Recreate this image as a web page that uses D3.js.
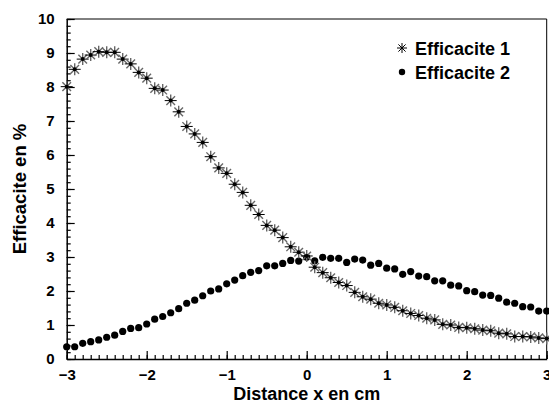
<!DOCTYPE html>
<html>
<head>
<meta charset="utf-8">
<script src="https://cdn.jsdelivr.net/npm/d3@7"></script>
<style>
  body { margin: 0; background: #fff; }
  text { font-family: "Liberation Sans", Arial, sans-serif; font-weight: bold; fill: #000; }
</style>
</head>
<body>
<svg width="549" height="403"></svg>
<script>
// distance (cm)
var distance = [
  -3.0, -2.9, -2.8, -2.7, -2.6, -2.5, -2.4, -2.3, -2.2, -2.1,
  -2.0, -1.9, -1.8, -1.7, -1.6, -1.5, -1.4, -1.3, -1.2, -1.1,
  -1.0, -0.9, -0.8, -0.7, -0.6, -0.5, -0.4, -0.3, -0.2, -0.1,
   0.0,  0.1,  0.2,  0.3,  0.4,  0.5,  0.6,  0.7,  0.8,  0.9,
   1.0,  1.1,  1.2,  1.3,  1.4,  1.5,  1.6,  1.7,  1.8,  1.9,
   2.0,  2.1,  2.2,  2.3,  2.4,  2.5,  2.6,  2.7,  2.8,  2.9,
   3.0
];

// Efficacite 1 (%)
var eff1 = [
  8.01, 8.52, 8.82, 8.94, 9.04, 9.02, 9.02, 8.82, 8.68, 8.43,
  8.26, 7.96, 7.91, 7.60, 7.27, 6.84, 6.62, 6.37, 5.95, 5.62,
  5.46, 5.14, 4.90, 4.52, 4.25, 3.93, 3.79, 3.57, 3.30, 3.14,
  3.03, 2.70, 2.54, 2.39, 2.25, 2.16, 1.96, 1.83, 1.76, 1.64,
  1.59, 1.52, 1.42, 1.34, 1.28, 1.20, 1.15, 1.02, 1.00, 0.93,
  0.92, 0.89, 0.85, 0.83, 0.76, 0.74, 0.66, 0.66, 0.65, 0.62,
  0.60
];

// Efficacite 2 (%)
var eff2 = [
  0.36, 0.36, 0.46, 0.51, 0.56, 0.64, 0.70, 0.81, 0.90, 0.92,
  1.03, 1.17, 1.25, 1.36, 1.48, 1.64, 1.73, 1.86, 2.00, 2.06,
  2.21, 2.32, 2.45, 2.55, 2.60, 2.74, 2.74, 2.81, 2.90, 2.88,
  2.99, 2.89, 2.99, 2.96, 2.96, 2.84, 2.94, 2.91, 2.76, 2.81,
  2.67, 2.65, 2.49, 2.57, 2.44, 2.42, 2.30, 2.30, 2.17, 2.15,
  2.01, 1.98, 1.88, 1.87, 1.79, 1.67, 1.64, 1.54, 1.53, 1.41,
  1.41
];

var xTicks = [-3, -2, -1, 0, 1, 2, 3];
var yTicks = [0, 1, 2, 3, 4, 5, 6, 7, 8, 9, 10];
var seriesNames = ["Efficacite 1", "Efficacite 2"];

var svg = d3.select("svg");
var mLeft = 66.7, mRight = 546.7, mTop = 19, mBottom = 359;

var x = d3.scaleLinear().domain([-3, 3]).range([mLeft, mRight]);
var y = d3.scaleLinear().domain([0, 10]).range([mBottom, mTop]);

// frame (top + right)
svg.append("path")
    .attr("d", "M" + mLeft + "," + mTop + "H" + mRight + "V" + mBottom)
    .attr("fill", "none")
    .attr("stroke", "#000")
    .attr("stroke-width", 1);

// minor ticks
svg.append("g")
    .attr("transform", "translate(0," + mBottom + ")")
    .call(d3.axisBottom(x).ticks(60).tickSize(-4).tickFormat(""))
    .call(g => g.select(".domain").remove());
svg.append("g")
    .attr("transform", "translate(" + mLeft + ",0)")
    .call(d3.axisLeft(y).ticks(40).tickSize(-4).tickFormat(""))
    .call(g => g.select(".domain").remove());

// major axes
var xAxis = svg.append("g")
    .attr("transform", "translate(0," + mBottom + ")")
    .call(d3.axisBottom(x).tickValues(xTicks).tickSizeInner(-8).tickSizeOuter(0).tickPadding(10)
        .tickFormat(d => d < 0 ? "\u2212" + Math.abs(d) : d));
xAxis.selectAll("text").attr("font-size", 15);

var yAxis = svg.append("g")
    .attr("transform", "translate(" + mLeft + ",0)")
    .call(d3.axisLeft(y).tickValues(yTicks).tickSizeInner(-8).tickSizeOuter(0).tickPadding(12));
yAxis.selectAll("text").attr("font-size", 15);

svg.selectAll(".domain").attr("stroke-width", 1.5);
svg.selectAll(".tick line").attr("stroke-width", 1.2);
svg.selectAll("g[font-family]").attr("font-family", null);

// axis titles
svg.append("text")
    .attr("x", (mLeft + mRight) / 2)
    .attr("y", 400)
    .attr("text-anchor", "middle")
    .attr("font-size", 18)
    .text("Distance x en cm");

svg.append("text")
    .attr("transform", "translate(26," + (mTop + mBottom) / 2 + ") rotate(-90)")
    .attr("text-anchor", "middle")
    .attr("font-size", 18.5)
    .text("Efficacite en %");

// asterisk marker
function star(g, r, light) {
    [[-r, 0, r, 0], [0, -r, 0, r], [-r * 0.72, -r * 0.72, r * 0.72, r * 0.72], [-r * 0.72, r * 0.72, r * 0.72, -r * 0.72]]
        .forEach((s, i) => {
            g.append("line")
                .attr("x1", s[0]).attr("y1", s[1]).attr("x2", s[2]).attr("y2", s[3])
                .attr("stroke", light && i > 0 ? "#666" : "#000")
                .attr("stroke-width", light && i > 0 ? 1.4 : 1);
        });
}

var pts1 = distance.map((d, i) => ({x: d, y: eff1[i]}));
var pts2 = distance.map((d, i) => ({x: d, y: eff2[i]}));

// series 2 dots
svg.append("g")
    .selectAll("circle")
    .data(pts2)
    .join("circle")
    .attr("cx", d => x(d.x))
    .attr("cy", d => y(d.y))
    .attr("r", 3.6)
    .attr("fill", "#000");

// series 1 asterisks
svg.append("g")
    .selectAll("g")
    .data(pts1)
    .join("g")
    .attr("transform", d => "translate(" + x(d.x) + "," + y(d.y) + ")")
    .each(function() {
        var g = d3.select(this);
        star(g, 6, true);
        g.append("circle").attr("r", 2).attr("fill", "#000");
    });

// legend
var legend = svg.append("g");
seriesNames.forEach((name, i) => {
    var ly = 48 + i * 24;
    var mk = legend.append("g").attr("transform", "translate(402," + ly + ")");
    if (i === 0) star(mk, 5, false);
    else mk.append("circle").attr("r", 3.2).attr("fill", "#000");
    legend.append("text")
        .attr("x", 415)
        .attr("y", ly + 6.5)
        .attr("font-size", 18)
        .text(name);
});
</script>
</body>
</html>
